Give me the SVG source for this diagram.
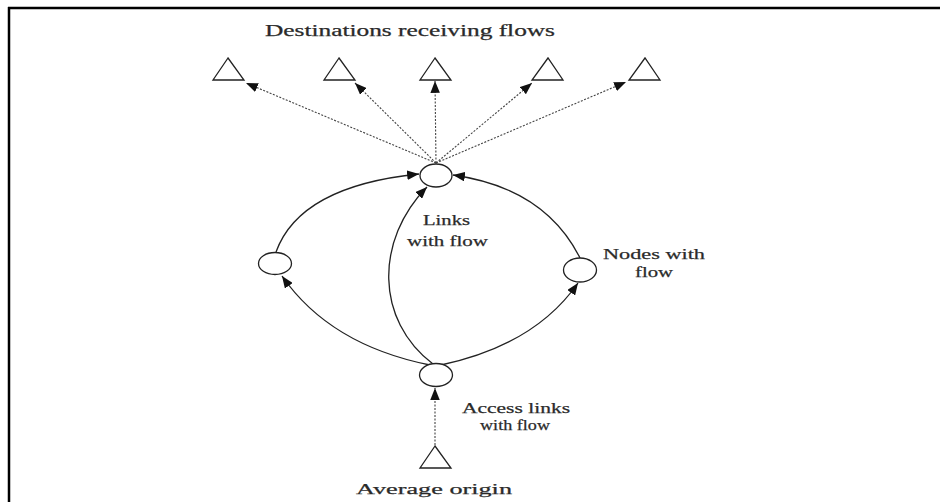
<svg xmlns="http://www.w3.org/2000/svg" width="940" height="502" viewBox="0 0 940 502">
<style>
text{font-family:"Liberation Serif","Times New Roman",serif;font-size:15.5px;fill:#2a2a2a;stroke:#2a2a2a;stroke-width:0.25}
.title{font-size:16px}
.node{fill:#fff;stroke:#222;stroke-width:1.3}
.dash{fill:none;stroke:#444;stroke-width:1.1;stroke-dasharray:2 1.5}
.solid{fill:none;stroke:#222;stroke-width:1.3}
</style>
<defs>
<marker id="ah" viewBox="0 0 10 8" refX="10" refY="4" markerWidth="12" markerHeight="9.5" markerUnits="userSpaceOnUse" orient="auto">
<path d="M0,0 L10,4 L0,8 Z" fill="#111"/>
</marker>
</defs>
<rect width="940" height="502" fill="#fff"/>
<g id="frame" stroke="#000" stroke-width="2.5" fill="none">
<line x1="8" y1="8" x2="940" y2="8"/>
<line x1="9" y1="7" x2="9" y2="502"/>
</g>
<g id="connectors">
<line class="dash" x1="436" y1="163" x2="246" y2="83" marker-end="url(#ah)"/>
<line class="dash" x1="436" y1="163" x2="355" y2="83" marker-end="url(#ah)"/>
<line class="dash" x1="436" y1="163" x2="435" y2="81" marker-end="url(#ah)"/>
<line class="dash" x1="436" y1="163" x2="532" y2="83" marker-end="url(#ah)"/>
<line class="dash" x1="436" y1="163" x2="626" y2="82" marker-end="url(#ah)"/>
<line class="dash" x1="435" y1="445" x2="435" y2="388" marker-end="url(#ah)"/>
<path class="solid" d="M430 365 Q330 345 282 276" marker-end="url(#ah)"/>
<path class="solid" d="M276 252 Q300 186 419 174" marker-end="url(#ah)"/>
<path class="solid" d="M433 364 C375 320 375 240 427 187" marker-end="url(#ah)"/>
<path class="solid" d="M441 365 Q535 345 578 283" marker-end="url(#ah)"/>
<path class="solid" d="M580 258 Q545 188 453 175" marker-end="url(#ah)"/>
</g>
<g id="dest1"><path class="node" d="M228 58 L213 80 L244 80 Z"/></g>
<g id="dest2"><path class="node" d="M339 58 L324 80 L355 80 Z"/></g>
<g id="dest3"><path class="node" d="M435 58 L420 80 L451 80 Z"/></g>
<g id="dest4"><path class="node" d="M548 58 L532 80 L563 80 Z"/></g>
<g id="dest5"><path class="node" d="M645 58 L629 80 L660 80 Z"/></g>
<g id="hub"><ellipse class="node" cx="436" cy="175.5" rx="16" ry="11.5"/></g>
<g id="left"><ellipse class="node" cx="275" cy="263.5" rx="16.5" ry="11"/></g>
<g id="right"><ellipse class="node" cx="580" cy="270" rx="16.5" ry="12"/></g>
<g id="access"><ellipse class="node" cx="436" cy="375" rx="16.5" ry="11.5"/></g>
<g id="origin"><path class="node" d="M435 446 L420 468 L451 468 Z"/></g>
<g id="labels">
<text class="title" x="265" y="36" textLength="290" lengthAdjust="spacingAndGlyphs">Destinations receiving flows</text>
<text x="423" y="225" textLength="47" lengthAdjust="spacingAndGlyphs">Links</text>
<text x="407" y="246" textLength="81" lengthAdjust="spacingAndGlyphs">with flow</text>
<text x="603" y="259" textLength="102" lengthAdjust="spacingAndGlyphs">Nodes with</text>
<text x="635" y="277" textLength="38" lengthAdjust="spacingAndGlyphs">flow</text>
<text x="462" y="413" textLength="108" lengthAdjust="spacingAndGlyphs">Access links</text>
<text x="480" y="430" textLength="70" lengthAdjust="spacingAndGlyphs">with flow</text>
<text x="356" y="494" textLength="156" lengthAdjust="spacingAndGlyphs">Average origin</text>
</g>
</svg>
